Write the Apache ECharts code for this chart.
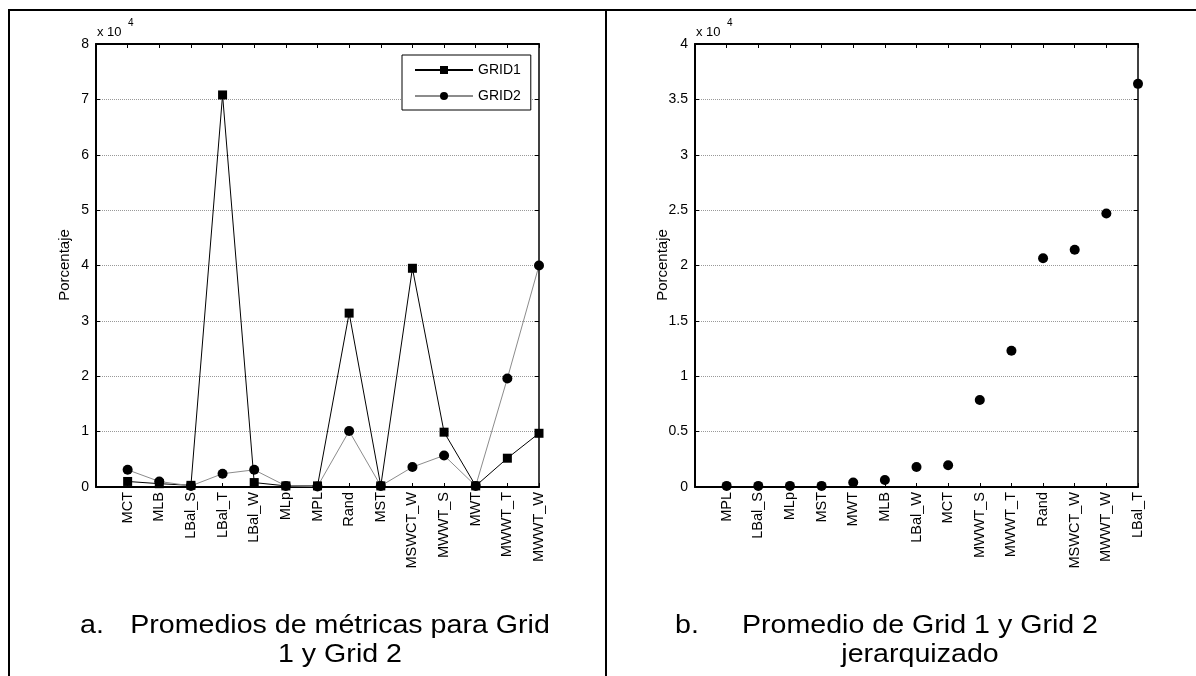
<!DOCTYPE html>
<html>
<head>
<meta charset="utf-8">
<script src="https://cdn.jsdelivr.net/npm/echarts@6/dist/echarts.min.js"></script>
<style>
  html, body { margin: 0; padding: 0; background: #fff; }
  #c { width: 1196px; height: 676px; }
</style>
</head>
<body>
<div id="c"></div>
<script>
// Panel a: average metric per method for each grid
const categoriesA = ['MCT', 'MLB', 'LBal_S', 'LBal_T', 'LBal_W', 'MLp', 'MPL', 'Rand', 'MST', 'MSWCT_W', 'MWWT_S', 'MWT', 'MWWT_T', 'MWWT_W'];
const grid1Values = [1000, 600, 300, 70800, 800, 200, 200, 31400, 200, 39500, 9900, 200, 5200, 9700];
const grid2Values = [3100, 1000, 200, 2400, 3100, 200, 100, 10100, 200, 3600, 5700, 200, 19600, 40000];

// Panel b: combined average, ranked from lowest to highest
const categoriesB = ['MPL', 'LBal_S', 'MLp', 'MST', 'MWT', 'MLB', 'LBal_W', 'MCT', 'MWWT_S', 'MWWT_T', 'Rand', 'MSWCT_W', 'MWWT_W', 'LBal_T'];
const rankedValues = [100, 100, 100, 100, 400, 630, 1800, 1960, 7850, 12300, 20650, 21420, 24700, 36400];

const FONT = '"Liberation Sans", Arial, sans-serif';

function toPoints(values) {
  return values.map((v, i) => [i + 1, v]);
}

function bottomAxis(gridIndex, cats) {
  return {
    gridIndex, type: 'value', min: 0, max: cats.length, interval: 1,
    axisLine: { show: true, onZero: false, lineStyle: { color: '#000', width: 2 } },
    axisTick: { show: true, inside: true, length: 4, lineStyle: { color: '#000' } },
    splitLine: { show: false },
    axisLabel: {
      rotate: 90, margin: 5, fontFamily: FONT, fontSize: 14.5, color: '#000',
      formatter: v => cats[v - 1] || '', showMinLabel: false
    }
  };
}
function topAxis(gridIndex, cats) {
  return {
    gridIndex, type: 'value', position: 'top', min: 0, max: cats.length, interval: 1,
    axisLine: { show: true, onZero: false, lineStyle: { color: '#000', width: 2 } },
    axisTick: { show: true, inside: true, length: 4, lineStyle: { color: '#000' } },
    splitLine: { show: false }, axisLabel: { show: false }
  };
}
function leftAxis(gridIndex, max, interval) {
  return {
    gridIndex, type: 'value', min: 0, max, interval,
    axisLine: { show: true, onZero: false, lineStyle: { color: '#000', width: 2 } },
    axisTick: { show: true, inside: true, length: 4, lineStyle: { color: '#000' } },
    splitLine: { show: true, lineStyle: { color: '#999', type: [1, 1], width: 1 } },
    axisLabel: { margin: 7, fontFamily: FONT, fontSize: 14, color: '#000', formatter: v => String(v / 10000) }
  };
}
function rightAxis(gridIndex, max, interval) {
  return {
    gridIndex, type: 'value', position: 'right', min: 0, max, interval,
    axisLine: { show: true, onZero: false, lineStyle: { color: '#000', width: 1.5 } },
    axisTick: { show: true, inside: true, length: 4, lineStyle: { color: '#000' } },
    splitLine: { show: false }, axisLabel: { show: false }
  };
}

function scaleLabel(x, y) {
  return [
    { type: 'text', x, y, style: { text: 'x 10', font: '13px ' + FONT, fill: '#000', textVerticalAlign: 'middle' } },
    { type: 'text', x: x + 31, y: y - 9, style: { text: '4', font: '10px ' + FONT, fill: '#000', textVerticalAlign: 'middle' } }
  ];
}
function yName(x, y) {
  return { type: 'text', x, y, rotation: Math.PI / 2,
    style: { text: 'Porcentaje', font: '15px ' + FONT, fill: '#000', textAlign: 'center', textVerticalAlign: 'middle' } };
}
// Numbered caption under each panel: list label, then two centred lines
function caption(letterX, centerX, y1, line1, line2, letter) {
  const f = '26px ' + FONT;
  const sx = 1.1;
  return [
    { type: 'text', x: letterX, y: y1, scaleX: sx, style: { text: letter, font: f, fill: '#000', textVerticalAlign: 'middle' } },
    { type: 'text', x: centerX, y: y1, scaleX: sx, style: { text: line1, font: f, fill: '#000', textAlign: 'center', textVerticalAlign: 'middle' } },
    { type: 'text', x: centerX, y: y1 + 29, scaleX: sx, style: { text: line2, font: f, fill: '#000', textAlign: 'center', textVerticalAlign: 'middle' } }
  ];
}
const frame = { stroke: '#000', lineWidth: 2 };

const chart = echarts.init(document.getElementById('c'), null, { renderer: 'canvas' });
chart.setOption({
  backgroundColor: '#fff',
  animation: false,
  grid: [
    { left: 96, top: 44, width: 443, height: 443 },
    { left: 695, top: 44, width: 443, height: 443 }
  ],
  xAxis: [bottomAxis(0, categoriesA), topAxis(0, categoriesA), bottomAxis(1, categoriesB), topAxis(1, categoriesB)],
  yAxis: [leftAxis(0, 80000, 10000), rightAxis(0, 80000, 10000), leftAxis(1, 40000, 5000), rightAxis(1, 40000, 5000)],
  legend: {
    data: ['GRID1', 'GRID2'],
    orient: 'vertical', left: 402, top: 55,
    backgroundColor: '#fff', borderColor: '#000', borderWidth: 1,
    padding: [8, 10, 7, 12], itemGap: 12, itemWidth: 58, itemHeight: 10,
    textStyle: { fontFamily: FONT, fontSize: 14, color: '#000' }
  },
  series: [
    {
      name: 'GRID1', type: 'line', xAxisIndex: 0, yAxisIndex: 0, clip: false,
      data: toPoints(grid1Values),
      symbol: 'rect', symbolSize: 9,
      lineStyle: { color: '#000', width: 1 }, itemStyle: { color: '#000' }
    },
    {
      name: 'GRID2', type: 'line', xAxisIndex: 0, yAxisIndex: 0, clip: false,
      data: toPoints(grid2Values),
      symbol: 'circle', symbolSize: 10,
      lineStyle: { color: '#8c8c8c', width: 1 }, itemStyle: { color: '#000' }
    },
    {
      name: 'Promedio', type: 'scatter', xAxisIndex: 2, yAxisIndex: 2, clip: false,
      data: toPoints(rankedValues),
      symbol: 'circle', symbolSize: 10, itemStyle: { color: '#000', opacity: 1 }
    }
  ],
  graphic: [
    { type: 'line', shape: { x1: 8, y1: 10, x2: 1196, y2: 10 }, style: frame },
    { type: 'line', shape: { x1: 9, y1: 10, x2: 9, y2: 676 }, style: frame },
    { type: 'line', shape: { x1: 606, y1: 10, x2: 606, y2: 676 }, style: frame },
    ...scaleLabel(97, 32),
    ...scaleLabel(696, 32),
    yName(65, 265),
    yName(663, 265),
    ...caption(80, 340, 626, 'Promedios de métricas para Grid', '1 y Grid 2', 'a.'),
    ...caption(675, 920, 626, 'Promedio de Grid 1 y Grid 2', 'jerarquizado', 'b.')
  ]
});
</script>
</body>
</html>
